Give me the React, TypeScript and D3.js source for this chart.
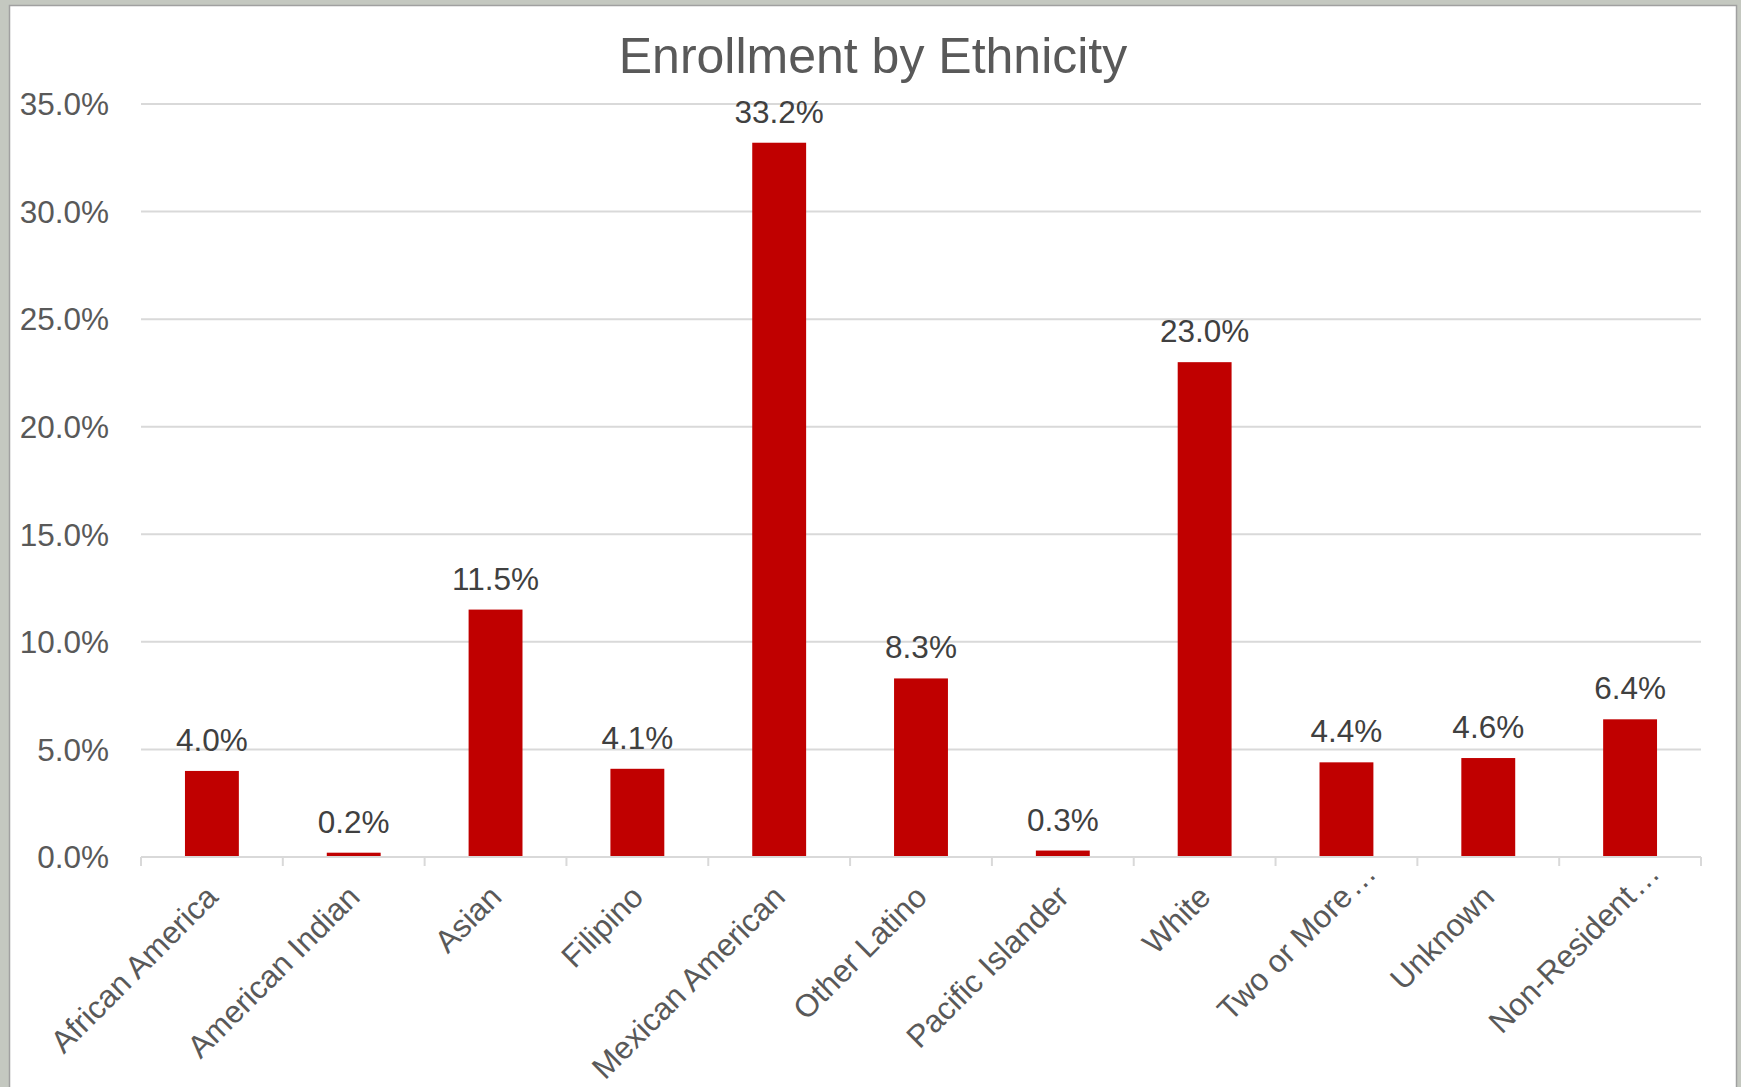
import React from "react";
import * as d3 from "d3";

const categories: string[] = [
  "African America",
  "American Indian",
  "Asian",
  "Filipino",
  "Mexican American",
  "Other Latino",
  "Pacific Islander",
  "White",
  "Two or More…",
  "Unknown",
  "Non-Resident…",
];
const values: number[] = [4.0, 0.2, 11.5, 4.1, 33.2, 8.3, 0.3, 23.0, 4.4, 4.6, 6.4];
const yTicks: number[] = [0, 5, 10, 15, 20, 25, 30, 35];
const title = "Enrollment by Ethnicity";

const W = 1741;
const H = 1087;
const FONT = "'Liberation Sans', Arial, Helvetica, sans-serif";

export default function App() {
  const plot = { left: 141, right: 1701, top: 104, bottom: 857 };
  const x = d3
    .scaleBand<string>()
    .domain(categories)
    .range([plot.left, plot.right])
    .paddingInner(0.62)
    .paddingOuter(0.31);
  const xOuter = d3.scaleBand<string>().domain(categories).range([plot.left, plot.right]);
  const y = d3.scaleLinear().domain([0, 35]).range([plot.bottom, plot.top]);
  const fmt = (v: number) => v.toFixed(1) + "%";

  const boundaries = categories.map((c) => xOuter(c) as number).concat([plot.right]);

  return (
    <svg
      width={W}
      height={H}
      viewBox={`0 0 ${W} ${H}`}
      style={{ position: "absolute", left: 0, top: 0, display: "block" }}
    >
      <rect x={0} y={0} width={W} height={H} fill="#c4c8c0" />
      <rect x={9.5} y={5.5} width={1727} height={H} fill="#ffffff" stroke="#a0a0a0" strokeWidth={1.5} />

      <text
        x={873}
        y={73}
        textAnchor="middle"
        fontFamily={FONT}
        fontSize={50}
        fill="#595959"
      >
        {title}
      </text>

      {yTicks.map((t) => (
        <g key={t}>
          {t > 0 && (
            <line
              x1={plot.left}
              x2={plot.right}
              y1={y(t)}
              y2={y(t)}
              stroke="#d9d9d9"
              strokeWidth={2}
            />
          )}
          <text
            x={109}
            y={y(t)}
            dy="0.36em"
            textAnchor="end"
            fontFamily={FONT}
            fontSize={31.5}
            fill="#595959"
          >
            {fmt(t)}
          </text>
        </g>
      ))}

      {categories.map((c, i) => (
        <rect
          key={c}
          x={x(c)}
          y={y(values[i])}
          width={x.bandwidth()}
          height={y(0) - y(values[i])}
          fill="#c00000"
        />
      ))}

      <line x1={plot.left} x2={plot.right} y1={y(0)} y2={y(0)} stroke="#d9d9d9" strokeWidth={2} />
      {boundaries.map((bx, i) => (
        <line key={i} x1={bx} x2={bx} y1={y(0)} y2={y(0) + 9} stroke="#d9d9d9" strokeWidth={2} />
      ))}

      {categories.map((c, i) => (
        <text
          key={c}
          x={(x(c) as number) + x.bandwidth() / 2}
          y={y(values[i]) - 20}
          textAnchor="middle"
          fontFamily={FONT}
          fontSize={31.5}
          fill="#404040"
        >
          {fmt(values[i])}
        </text>
      ))}

      {categories.map((c) => {
        const cx = (x(c) as number) + x.bandwidth() / 2;
        const truncated = c.endsWith("…");
        const base = truncated ? c.slice(0, -1) : c;
        return (
          <g key={c} transform={`translate(${cx - 8},${plot.bottom + 26}) rotate(-45)`}>
            <text
              dy="0.71em"
              textAnchor="end"
              fontFamily={FONT}
              fontSize={31.5}
              fill="#595959"
            >
              {base}
            </text>
            {truncated && (
              <text
                x={2}
                dy="0.71em"
                textAnchor="start"
                fontFamily={FONT}
                fontSize={31.5}
                fill="#595959"
              >
                …
              </text>
            )}
          </g>
        );
      })}
    </svg>
  );
}
